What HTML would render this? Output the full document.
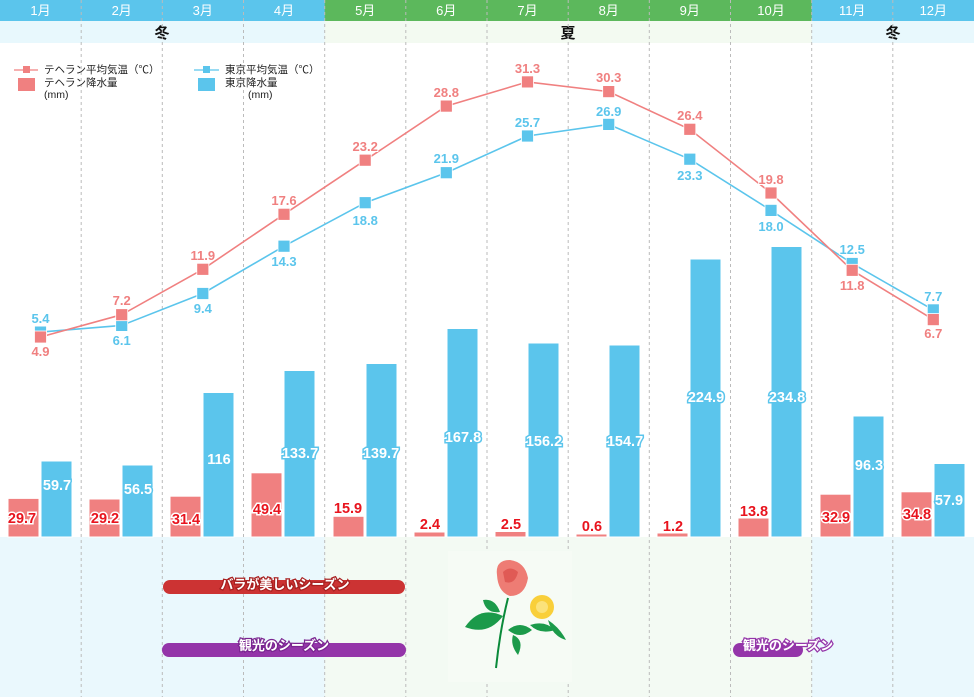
<!DOCTYPE html>
<html><head><meta charset="utf-8"><style>
body{margin:0;width:974px;height:697px;overflow:hidden;background:#fff}
svg{display:block;font-family:"Liberation Sans","Noto Sans CJK JP",sans-serif}
.rl{fill:#e8141e;stroke:#fff;stroke-width:3;paint-order:stroke;font-weight:bold;font-size:14.5px;text-anchor:middle}
.bl{fill:#fff;stroke:#5bc5ec;stroke-width:3;paint-order:stroke;font-weight:bold;font-size:14.5px;text-anchor:middle}
.tt{fill:#f08080;font-weight:bold;font-size:13px;text-anchor:middle;stroke:#fff;stroke-width:2;paint-order:stroke}
.tk{fill:#5bc5ec;font-weight:bold;font-size:13px;text-anchor:middle;stroke:#fff;stroke-width:2;paint-order:stroke}
.mo{fill:#fff;font-size:13px;text-anchor:middle}
.lg{font-size:10.5px;fill:#222}
.bt{fill:#fff;font-size:13px;font-weight:bold;text-anchor:middle;stroke-width:2.5;paint-order:stroke}
</style></head><body>
<svg width="974" height="697" viewBox="0 0 974 697">
<rect x="0" y="0" width="974" height="21" fill="#5bc5ec"/>
<rect x="324.7" y="0" width="487" height="21" fill="#5cb85c"/>
<rect x="0" y="21" width="974" height="22" fill="#e8f8fd"/>
<rect x="324.7" y="21" width="487" height="22" fill="#f3faf1"/>
<rect x="0" y="537" width="974" height="160" fill="#eaf8fd"/>
<rect x="324.7" y="537" width="487" height="160" fill="#f3faf3"/>
<g class="mo">
<text x="40.5" y="15">1月</text><text x="121.7" y="15">2月</text><text x="202.8" y="15">3月</text><text x="284" y="15">4月</text><text x="365.2" y="15">5月</text><text x="446.3" y="15">6月</text><text x="527.5" y="15">7月</text><text x="608.7" y="15">8月</text><text x="689.8" y="15">9月</text><text x="771" y="15">10月</text><text x="852.2" y="15">11月</text><text x="933.3" y="15">12月</text>
</g>
<g font-size="15" font-weight="bold" text-anchor="middle" fill="#111">
<text x="162" y="38">冬</text><text x="568" y="38">夏</text><text x="893" y="38">冬</text>
</g>
<g stroke="#bbb" stroke-dasharray="3,3" stroke-width="1">
<line x1="81.2" y1="0" x2="81.2" y2="697"/><line x1="162.3" y1="0" x2="162.3" y2="697"/><line x1="243.5" y1="0" x2="243.5" y2="697"/><line x1="324.7" y1="0" x2="324.7" y2="697"/><line x1="405.8" y1="0" x2="405.8" y2="697"/><line x1="487" y1="0" x2="487" y2="697"/><line x1="568.2" y1="0" x2="568.2" y2="697"/><line x1="649.3" y1="0" x2="649.3" y2="697"/><line x1="730.5" y1="0" x2="730.5" y2="697"/><line x1="811.7" y1="0" x2="811.7" y2="697"/><line x1="892.8" y1="0" x2="892.8" y2="697"/>
</g>
<line x1="14" y1="70" x2="38" y2="70" stroke="#f08080" stroke-width="1.2"/><rect x="23" y="66" width="7" height="7" fill="#f08080"/>
<text class="lg" x="44" y="73">テヘラン平均気温（℃）</text>
<rect x="18" y="78" width="17" height="13" fill="#f08080"/>
<text class="lg" x="44" y="86">テヘラン降水量</text><text class="lg" x="44" y="98">(mm)</text>
<line x1="194" y1="70" x2="219" y2="70" stroke="#5bc5ec" stroke-width="1.2"/><rect x="203" y="66" width="7" height="7" fill="#5bc5ec"/>
<text class="lg" x="225" y="73">東京平均気温（℃）</text>
<rect x="198" y="78" width="17" height="13" fill="#5bc5ec"/>
<text class="lg" x="225" y="86">東京降水量</text><text class="lg" x="248" y="98">(mm)</text>
<g fill="#f08080" stroke="#fff" stroke-width="1">
<rect x="8" y="498.4" width="31" height="38.6"/><rect x="89" y="499" width="31" height="38"/><rect x="170" y="496.2" width="31" height="40.8"/><rect x="251" y="472.8" width="31" height="64.2"/><rect x="333" y="516.3" width="31" height="20.7"/><rect x="414" y="532" width="31" height="5"/><rect x="495" y="531.5" width="31" height="5.5"/><rect x="576" y="534" width="31" height="3"/><rect x="657" y="533" width="31" height="4"/><rect x="738" y="518" width="31" height="19"/><rect x="820" y="494.2" width="31" height="42.8"/><rect x="901" y="491.8" width="31" height="45.2"/>
</g>
<g fill="#5bc5ec" stroke="#fff" stroke-width="1">
<rect x="41" y="461" width="31" height="76"/><rect x="122" y="465" width="31" height="72"/><rect x="203" y="392.5" width="31" height="144.5"/><rect x="284" y="370.5" width="31" height="166.5"/><rect x="366" y="363.5" width="31" height="173.5"/><rect x="447" y="328.5" width="31" height="208.5"/><rect x="528" y="343" width="31" height="194"/><rect x="609" y="345" width="31" height="192"/><rect x="690" y="259" width="31" height="278"/><rect x="771" y="246.5" width="31" height="290.5"/><rect x="853" y="416" width="31" height="121"/><rect x="934" y="463.5" width="31" height="73.5"/>
</g>
<g>
<text class="rl" x="22" y="523">29.7</text><text class="rl" x="105" y="523">29.2</text><text class="rl" x="186" y="524">31.4</text><text class="rl" x="267" y="514">49.4</text><text class="rl" x="348" y="513">15.9</text><text class="rl" x="430" y="529">2.4</text><text class="rl" x="511" y="529">2.5</text><text class="rl" x="592" y="531">0.6</text><text class="rl" x="673" y="531">1.2</text><text class="rl" x="754" y="516">13.8</text><text class="rl" x="836" y="522">32.9</text><text class="rl" x="917" y="519">34.8</text>
</g>
<g>
<text class="bl" x="57" y="490">59.7</text><text class="bl" x="138" y="494">56.5</text><text class="bl" x="219" y="464">116</text><text class="bl" x="300" y="458">133.7</text><text class="bl" x="381" y="458">139.7</text><text class="bl" x="463" y="442">167.8</text><text class="bl" x="544" y="446">156.2</text><text class="bl" x="625" y="446">154.7</text><text class="bl" x="706" y="402">224.9</text><text class="bl" x="787" y="402">234.8</text><text class="bl" x="869" y="470">96.3</text><text class="bl" x="949" y="505">57.9</text>
</g>
<polyline fill="none" stroke="#5bc5ec" stroke-width="1.6" points="40.5,332.1 121.7,325.4 202.8,293.5 284,246.2 365.2,202.7 446.3,172.7 527.5,136 608.7,124.4 689.8,159.2 771,210.4 852.2,263.5 933.3,309.9"/>
<polyline fill="none" stroke="#f08080" stroke-width="1.6" points="40.5,337 121.7,314.7 202.8,269.3 284,214.3 365.2,160.2 446.3,106.1 527.5,81.9 608.7,91.6 689.8,129.3 771,193 852.2,270.3 933.3,319.6"/>
<g fill="#5bc5ec" stroke="#fff" stroke-width="0.8">
<rect x="34.5" y="326.1" width="12" height="12"/><rect x="115.7" y="319.4" width="12" height="12"/><rect x="196.8" y="287.5" width="12" height="12"/><rect x="278" y="240.2" width="12" height="12"/><rect x="359.2" y="196.7" width="12" height="12"/><rect x="440.3" y="166.7" width="12" height="12"/><rect x="521.5" y="130" width="12" height="12"/><rect x="602.7" y="118.4" width="12" height="12"/><rect x="683.8" y="153.2" width="12" height="12"/><rect x="765" y="204.4" width="12" height="12"/><rect x="846.2" y="257.5" width="12" height="12"/><rect x="927.3" y="303.9" width="12" height="12"/>
</g>
<g fill="#f08080" stroke="#fff" stroke-width="0.8">
<rect x="34.5" y="331" width="12" height="12"/><rect x="115.7" y="308.7" width="12" height="12"/><rect x="196.8" y="263.3" width="12" height="12"/><rect x="278" y="208.3" width="12" height="12"/><rect x="359.2" y="154.2" width="12" height="12"/><rect x="440.3" y="100.1" width="12" height="12"/><rect x="521.5" y="75.9" width="12" height="12"/><rect x="602.7" y="85.6" width="12" height="12"/><rect x="683.8" y="123.3" width="12" height="12"/><rect x="765" y="187" width="12" height="12"/><rect x="846.2" y="264.3" width="12" height="12"/><rect x="927.3" y="313.6" width="12" height="12"/>
</g>
<g>
<text class="tt" x="40.5" y="356">4.9</text><text class="tt" x="121.7" y="305">7.2</text><text class="tt" x="202.8" y="260">11.9</text><text class="tt" x="284" y="205">17.6</text><text class="tt" x="365.2" y="151">23.2</text><text class="tt" x="446.3" y="97">28.8</text><text class="tt" x="527.5" y="73">31.3</text><text class="tt" x="608.7" y="82">30.3</text><text class="tt" x="689.8" y="120">26.4</text><text class="tt" x="771" y="184">19.8</text><text class="tt" x="852.2" y="290">11.8</text><text class="tt" x="933.3" y="338">6.7</text>
</g>
<g>
<text class="tk" x="40.5" y="323">5.4</text><text class="tk" x="121.7" y="345">6.1</text><text class="tk" x="202.8" y="313">9.4</text><text class="tk" x="284" y="266">14.3</text><text class="tk" x="365.2" y="225">18.8</text><text class="tk" x="446.3" y="163">21.9</text><text class="tk" x="527.5" y="127">25.7</text><text class="tk" x="608.7" y="116">26.9</text><text class="tk" x="689.8" y="180">23.3</text><text class="tk" x="771" y="231">18.0</text><text class="tk" x="852.2" y="254">12.5</text><text class="tk" x="933.3" y="301">7.7</text>
</g>
<rect x="163" y="580" width="242" height="14" rx="7" fill="#cc3333"/>
<text class="bt" x="285" y="589" style="stroke:#a82020">バラが美しいシーズン</text>
<rect x="162" y="643" width="244" height="14" rx="7" fill="#9435a9"/>
<text class="bt" x="284" y="650" style="stroke:#7a2590">観光のシーズン</text>
<rect x="733" y="643" width="70" height="14" rx="7" fill="#9435a9"/>
<text class="bt" x="788" y="650" style="stroke:#9435a9">観光のシーズン</text>
<rect x="448" y="551" width="124" height="131" fill="#f6fbf5"/>
<g>
<path d="M496 668 Q500 630 508 598" stroke="#0a8a3a" stroke-width="2" fill="none"/>
<path d="M465 627 Q480 605 503 616 Q488 636 465 627Z" fill="#1b9a4a"/>
<path d="M483 600 Q495 598 500 612 Q486 614 483 600Z" fill="#1b9a4a"/>
<path d="M508 630 Q520 620 532 630 Q520 640 508 630Z" fill="#1b9a4a"/>
<path d="M513 635 Q525 640 518 655 Q510 645 513 635Z" fill="#1b9a4a"/>
<path d="M530 625 Q545 620 555 630 Q540 635 530 625Z" fill="#1b9a4a"/>
<path d="M548 620 Q560 628 566 640 Q552 636 548 620Z" fill="#1b9a4a"/>
<path d="M497 575 Q495 560 510 560 Q525 562 528 578 Q525 596 510 596 Q498 592 497 575Z" fill="#ee7c74"/>
<path d="M503 572 Q510 565 518 572 Q515 585 505 582Z" fill="#e05a55"/>
<circle cx="542" cy="607" r="12" fill="#f9cf3a"/>
<circle cx="542" cy="607" r="6" fill="#fbe27a"/>
</g>
</svg>
</body></html>
